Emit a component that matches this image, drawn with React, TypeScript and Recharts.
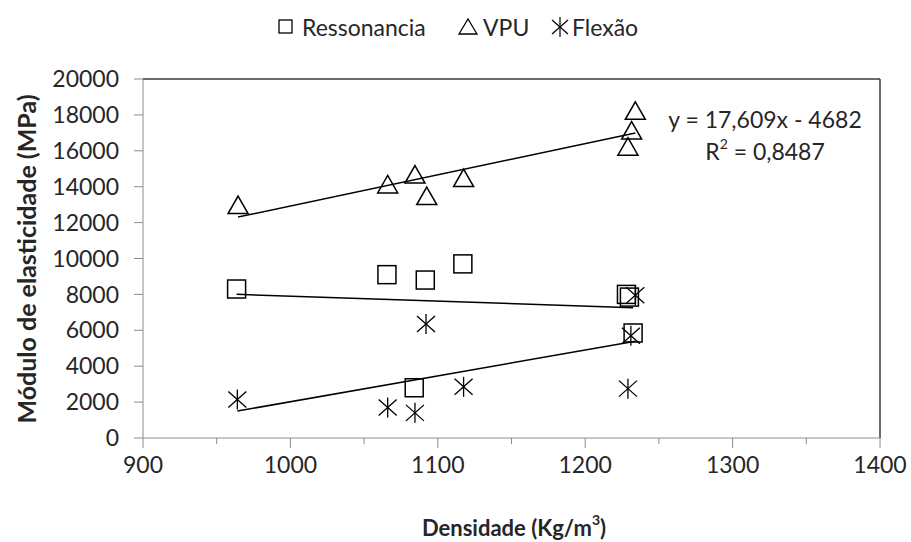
import React from "react";
import { ScatterChart, Scatter, XAxis, YAxis, ReferenceLine, Label } from "recharts";

// valores (densidade em Kg/m3, módulo em MPa)
const ressonanciaX = [963.5, 1065.5, 1091.5, 1117, 1228, 1230, 1232.5, 1084];
const ressonanciaY = [8300, 9100, 8800, 9700, 8000, 7850, 5850, 2800];
const vpuX = [964.5, 1066, 1084.5, 1092.5, 1117.5, 1234, 1231.5, 1229];
const vpuY = [12950, 14100, 14650, 13450, 14450, 18200, 17100, 16200];
const flexaoX = [964, 1066, 1084.5, 1092, 1117.5, 1229, 1231, 1234];
const flexaoY = [2150, 1700, 1400, 6350, 2850, 2750, 5700, 7950];

const xTicks = [900, 950, 1000, 1050, 1100, 1150, 1200, 1250, 1300, 1350, 1400];
const yTicks = [0, 2000, 4000, 6000, 8000, 10000, 12000, 14000, 16000, 18000, 20000];

const equationText = "y = 17,609x - 4682";
const r2Text = "0,8487";

const FONT = "Lato, 'Liberation Sans', sans-serif";
const axisGray = "#8c8c8c";
const textColor = "#262626";

const toPoints = (xs: number[], ys: number[]) => xs.map((x, i) => ({ x, y: ys[i] }));

// linha de tendência linear (mínimos quadrados), como no Excel
const trend = (xs: number[], ys: number[]) => {
  const n = xs.length;
  const mx = xs.reduce((a, b) => a + b, 0) / n;
  const my = ys.reduce((a, b) => a + b, 0) / n;
  let sxy = 0;
  let sxx = 0;
  xs.forEach((x, i) => {
    sxy += (x - mx) * (ys[i] - my);
    sxx += (x - mx) * (x - mx);
  });
  const slope = sxy / sxx;
  const intercept = my - slope * mx;
  const x0 = Math.min(...xs);
  const x1 = Math.max(...xs);
  return [
    { x: x0, y: slope * x0 + intercept },
    { x: x1, y: slope * x1 + intercept },
  ];
};

const SquareMark = ({ cx, cy }: any) => (
  <rect x={cx - 9} y={cy - 9} width={18} height={18} fill="none" stroke="#000" strokeWidth={1.5} />
);

const TriangleMark = ({ cx, cy }: any) => (
  <polygon
    points={`${cx},${cy - 9.5} ${cx + 10},${cy + 8} ${cx - 10},${cy + 8}`}
    fill="none"
    stroke="#000"
    strokeWidth={1.5}
  />
);

const StarMark = ({ cx, cy }: any) => (
  <g stroke="#000" strokeWidth={1.3}>
    <line x1={cx} y1={cy - 10} x2={cx} y2={cy + 10} />
    <line x1={cx - 9} y1={cy - 8} x2={cx + 9} y2={cy + 8} />
    <line x1={cx - 9} y1={cy + 8} x2={cx + 9} y2={cy - 8} />
  </g>
);

const NoMark = () => <g />;

const XTick = ({ x, y, payload }: any) => {
  const major = payload.value % 100 === 0;
  return (
    <g>
      <line x1={x} x2={x} y1={y} y2={y + (major ? 10 : 6)} stroke={axisGray} />
      {major && (
        <text x={x} y={y + 26} textAnchor="middle" dominantBaseline="central" fontSize={23} fill={textColor} fontFamily={FONT}>
          {payload.value}
        </text>
      )}
    </g>
  );
};

const legendItems = [
  { name: "Ressonancia", left: 277, icon: <rect x={2} y={3} width={13} height={13} fill="none" stroke="#000" strokeWidth={1.3} /> },
  { name: "VPU", left: 458, icon: <polygon points="10,2 19,17 1,17" fill="none" stroke="#000" strokeWidth={1.3} /> },
  {
    name: "Flexão",
    left: 550,
    icon: (
      <g stroke="#000" strokeWidth={1.2}>
        <line x1={10} y1={0} x2={10} y2={20} />
        <line x1={2} y1={3} x2={18} y2={17} />
        <line x1={2} y1={17} x2={18} y2={3} />
      </g>
    ),
  },
];

export default function App() {
  return (
    <div style={{ position: "absolute", left: 0, top: 0, width: 911, height: 542, background: "#fff", fontFamily: FONT }}>
      {legendItems.map((it) => (
        <div
          key={it.name}
          style={{
            position: "absolute",
            top: 12,
            left: it.left,
            display: "flex",
            alignItems: "center",
            gap: it.name === "Flexão" ? 2 : 5,
            fontSize: 23,
            color: textColor,
            lineHeight: "30px",
            whiteSpace: "nowrap",
          }}
        >
          <svg width={20} height={20}>{it.icon}</svg>
          <span>{it.name}</span>
        </div>
      ))}
      <ScatterChart width={911} height={542} margin={{ top: 79, right: 31, bottom: 0, left: 0 }}>
        <XAxis
          type="number"
          dataKey="x"
          domain={[900, 1400]}
          ticks={xTicks}
          interval={0}
          height={104}
          tickSize={0}
          tickMargin={0}
          tick={<XTick />}
          stroke={axisGray}
          allowDataOverflow
        >
          <Label
            content={() => (
              <text x={514} y={527} textAnchor="middle" dominantBaseline="central" fontSize={22} fontWeight="bold" fill={textColor} fontFamily={FONT}>
                Densidade (Kg/m<tspan dy={-8} fontSize={14}>3</tspan>
                <tspan dy={8}>)</tspan>
              </text>
            )}
          />
        </XAxis>
        <YAxis
          type="number"
          dataKey="y"
          domain={[0, 20000]}
          ticks={yTicks}
          interval={0}
          width={143}
          tickSize={9}
          tickMargin={15}
          stroke={axisGray}
          tick={{ fontSize: 23, fill: textColor, fontFamily: FONT }}
          allowDataOverflow
        >
          <Label
            content={() => (
              <text
                x={26}
                y={259}
                transform="rotate(-90, 26, 259)"
                textAnchor="middle"
                dominantBaseline="central"
                fontSize={25}
                fontWeight="bold"
                fill={textColor}
                fontFamily={FONT}
              >
                Módulo de elasticidade (MPa)
              </text>
            )}
          />
        </YAxis>
        <ReferenceLine y={20000} stroke="#3a3a3a" strokeWidth={1.5} />
        <ReferenceLine x={1400} stroke="#3a3a3a" strokeWidth={1.5} />

        <Scatter name="Ressonancia" data={toPoints(ressonanciaX, ressonanciaY)} shape={<SquareMark />} isAnimationActive={false} />
        <Scatter name="VPU" data={toPoints(vpuX, vpuY)} shape={<TriangleMark />} isAnimationActive={false} />
        <Scatter name="Flexão" data={toPoints(flexaoX, flexaoY)} shape={<StarMark />} isAnimationActive={false} />

        <Scatter data={trend(ressonanciaX, ressonanciaY)} line={{ stroke: "#000", strokeWidth: 1.5 }} shape={<NoMark />} legendType="none" isAnimationActive={false} />
        <Scatter data={trend(vpuX, vpuY)} line={{ stroke: "#000", strokeWidth: 1.5 }} shape={<NoMark />} legendType="none" isAnimationActive={false} />
        <Scatter data={trend(flexaoX, flexaoY)} line={{ stroke: "#000", strokeWidth: 1.5 }} shape={<NoMark />} legendType="none" isAnimationActive={false} />

        <text x={765} y={119} textAnchor="middle" dominantBaseline="central" fontSize={23} fill={textColor} fontFamily={FONT}>
          {equationText}
        </text>
        <text x={765} y={151} textAnchor="middle" dominantBaseline="central" fontSize={23} fill={textColor} fontFamily={FONT}>
          R<tspan dy={-8} fontSize={14}>2</tspan>
          <tspan dy={8}> = {r2Text}</tspan>
        </text>
      </ScatterChart>
    </div>
  );
}
